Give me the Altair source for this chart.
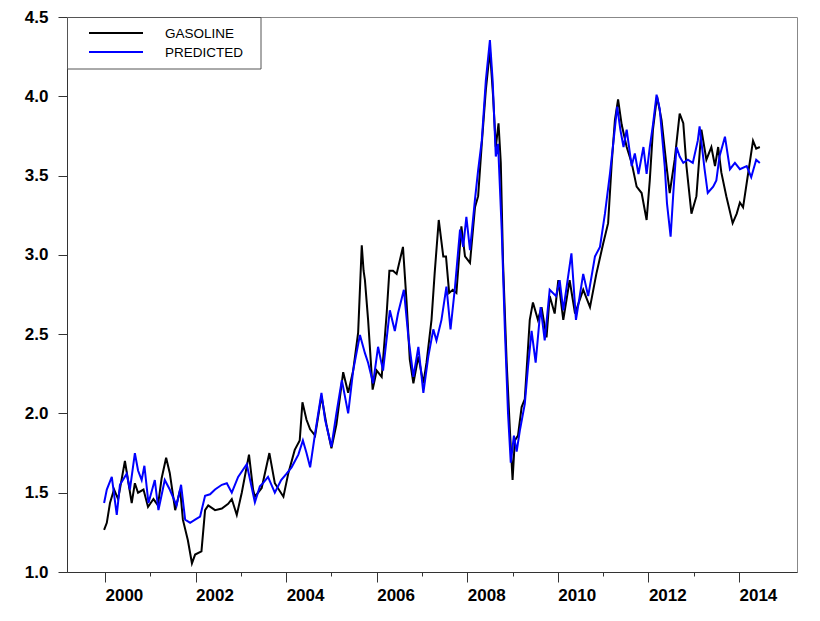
import altair as alt
import pandas as pd

# ---- data (decimal year, $/gal) ----
gas_t = [1999.98, 2000.04, 2000.11, 2000.20, 2000.29, 2000.44, 2000.59, 2000.66, 2000.73, 2000.85,
         2000.95, 2001.07, 2001.17, 2001.25, 2001.35, 2001.43, 2001.55, 2001.66, 2001.72, 2001.83,
         2001.92, 2001.99, 2002.13, 2002.21, 2002.28, 2002.43, 2002.58, 2002.72, 2002.80, 2002.91,
         2003.02, 2003.18, 2003.27, 2003.31, 2003.46, 2003.63, 2003.75, 2003.94, 2004.05, 2004.19,
         2004.30, 2004.36, 2004.45, 2004.53, 2004.64, 2004.78, 2004.89, 2005.00, 2005.11, 2005.26,
         2005.37, 2005.48, 2005.59, 2005.67, 2005.71, 2005.74, 2005.81, 2005.91, 2006.00, 2006.11,
         2006.22, 2006.28, 2006.36, 2006.44, 2006.58, 2006.66, 2006.73, 2006.81, 2006.92, 2007.03,
         2007.10, 2007.21, 2007.28, 2007.37, 2007.47, 2007.53, 2007.60, 2007.68, 2007.76, 2007.87,
         2007.95, 2008.06, 2008.17, 2008.24, 2008.32, 2008.41, 2008.50, 2008.57, 2008.63, 2008.69,
         2008.74, 2008.79, 2008.87, 2008.94, 2009.00, 2009.05, 2009.12, 2009.20, 2009.27, 2009.38,
         2009.45, 2009.56, 2009.64, 2009.75, 2009.82, 2009.93, 2010.01, 2010.12, 2010.26, 2010.38,
         2010.56, 2010.71, 2010.85, 2011.00, 2011.11, 2011.19, 2011.26, 2011.33, 2011.41, 2011.52,
         2011.63, 2011.74, 2011.85, 2011.96, 2012.03, 2012.10, 2012.19, 2012.29, 2012.40, 2012.47,
         2012.58, 2012.69, 2012.77, 2012.84, 2012.95, 2013.06, 2013.17, 2013.28, 2013.39, 2013.47,
         2013.54, 2013.61, 2013.72, 2013.86, 2013.95, 2014.02, 2014.09, 2014.20, 2014.31, 2014.38,
         2014.46]
gas_v = [1.265, 1.31, 1.435, 1.52, 1.46, 1.70, 1.435, 1.56, 1.50, 1.52,
         1.41, 1.46, 1.42, 1.59, 1.72, 1.625, 1.39, 1.52, 1.33, 1.20,
         1.055, 1.11, 1.13, 1.39, 1.42, 1.39, 1.40, 1.43, 1.46, 1.36,
         1.50, 1.74, 1.52, 1.475, 1.53, 1.75, 1.56, 1.475, 1.625, 1.77,
         1.83, 2.07, 1.96, 1.90, 1.86, 2.11, 1.93, 1.78, 1.93, 2.26,
         2.13, 2.27, 2.51, 3.06, 2.90, 2.84, 2.59, 2.15, 2.27, 2.23,
         2.63, 2.90, 2.90, 2.88, 3.05, 2.70, 2.34, 2.19, 2.36, 2.19,
         2.32, 2.59, 2.885, 3.22, 2.99, 2.99, 2.76, 2.78, 2.76, 3.18,
         2.99, 2.95, 3.30, 3.37, 3.70, 4.04, 4.29, 4.00, 3.68, 3.83,
         3.58, 2.95, 2.32, 1.90, 1.58, 1.83, 1.86, 2.04, 2.09, 2.59,
         2.70, 2.59, 2.67, 2.48, 2.74, 2.63, 2.84, 2.59, 2.84, 2.63,
         2.78, 2.67, 2.88, 3.07, 3.20, 3.58, 3.85, 3.98, 3.82, 3.68,
         3.58, 3.43, 3.39, 3.22, 3.47, 3.79, 4.00, 3.85, 3.56, 3.39,
         3.60, 3.89, 3.83, 3.56, 3.26, 3.37, 3.79, 3.60, 3.68, 3.56,
         3.68, 3.52, 3.37, 3.20, 3.26, 3.33, 3.30, 3.51, 3.72, 3.67,
         3.68]

pred_t = [1999.98, 2000.04, 2000.15, 2000.26, 2000.33, 2000.48, 2000.55, 2000.66, 2000.73, 2000.81,
          2000.87, 2000.96, 2001.10, 2001.18, 2001.32, 2001.43, 2001.58, 2001.68, 2001.77, 2001.88,
          2001.99, 2002.10, 2002.21, 2002.32, 2002.43, 2002.58, 2002.69, 2002.80, 2002.94, 2003.13,
          2003.31, 2003.42, 2003.49, 2003.60, 2003.75, 2003.89, 2004.01, 2004.12, 2004.27, 2004.37,
          2004.45, 2004.53, 2004.64, 2004.78, 2004.86, 2005.00, 2005.11, 2005.23, 2005.37, 2005.48,
          2005.63, 2005.74, 2005.81, 2005.92, 2006.03, 2006.14, 2006.29, 2006.40, 2006.47, 2006.60,
          2006.70, 2006.81, 2006.92, 2007.03, 2007.14, 2007.25, 2007.32, 2007.43, 2007.54, 2007.63,
          2007.73, 2007.84, 2007.91, 2007.98, 2008.06, 2008.17, 2008.24, 2008.32, 2008.41, 2008.50,
          2008.56, 2008.63, 2008.68, 2008.76, 2008.83, 2008.90, 2008.96, 2009.03, 2009.09, 2009.16,
          2009.27, 2009.34, 2009.42, 2009.51, 2009.62, 2009.71, 2009.82, 2009.96, 2010.04, 2010.12,
          2010.30, 2010.40, 2010.56, 2010.67, 2010.82, 2010.93, 2011.04, 2011.15, 2011.23, 2011.31,
          2011.38, 2011.45, 2011.52, 2011.63, 2011.70, 2011.78, 2011.89, 2011.96, 2012.03, 2012.10,
          2012.18, 2012.25, 2012.36, 2012.41, 2012.49, 2012.55, 2012.62, 2012.69, 2012.77, 2012.87,
          2012.98, 2013.09, 2013.13, 2013.24, 2013.31, 2013.43, 2013.50, 2013.57, 2013.69, 2013.80,
          2013.91, 2014.02, 2014.17, 2014.27, 2014.38, 2014.46]
pred_v = [1.435, 1.52, 1.60, 1.36, 1.55, 1.62, 1.52, 1.75, 1.64, 1.58,
          1.67, 1.435, 1.58, 1.39, 1.58, 1.52, 1.42, 1.55, 1.33, 1.31,
          1.33, 1.35, 1.48, 1.49, 1.52, 1.55, 1.56, 1.50, 1.60, 1.68,
          1.44, 1.54, 1.56, 1.60, 1.50, 1.58, 1.62, 1.66, 1.74, 1.83,
          1.75, 1.66, 1.875, 2.13, 1.96, 1.79, 2.00, 2.21, 2.00, 2.27,
          2.495, 2.38, 2.32, 2.19, 2.42, 2.27, 2.65, 2.52, 2.63, 2.78,
          2.48, 2.23, 2.42, 2.13, 2.36, 2.53, 2.46, 2.59, 2.80, 2.53,
          2.80, 3.16, 3.05, 3.24, 3.03, 3.35, 3.535, 3.72, 4.10, 4.355,
          4.10, 3.62, 3.70, 3.16, 2.53, 2.00, 1.69, 1.86, 1.76, 1.89,
          2.06, 2.29, 2.52, 2.32, 2.67, 2.46, 2.78, 2.74, 2.84, 2.65,
          3.01, 2.59, 2.88, 2.74, 2.99, 3.05, 3.26, 3.51, 3.72, 3.935,
          3.79, 3.68, 3.79, 3.56, 3.64, 3.51, 3.68, 3.51, 3.68, 3.82,
          4.01, 3.92, 3.56, 3.325, 3.115, 3.39, 3.68, 3.62, 3.58, 3.60,
          3.58, 3.72, 3.81, 3.54, 3.39, 3.43, 3.47, 3.62, 3.745, 3.54,
          3.58, 3.54, 3.56, 3.49, 3.60, 3.58]

series_names = ["GASOLINE", "PREDICTED"]
series_colors = ["#000000", "#0000ff"]
y_ticks = [1.0, 1.5, 2.0, 2.5, 3.0, 3.5, 4.0, 4.5]
x_ticks = list(range(2000, 2015))

df = pd.concat([
    pd.DataFrame({"t": gas_t, "v": gas_v, "series": series_names[0], "order": range(len(gas_t))}),
    pd.DataFrame({"t": pred_t, "v": pred_v, "series": series_names[1], "order": range(len(pred_t))}),
])

FONT = "Liberation Sans"

lines = alt.Chart(df).mark_line(strokeWidth=2, clip=True).encode(
    x=alt.X("t:Q", scale=alt.Scale(domain=[1999.161, 2015.281], nice=False, zero=False),
            axis=alt.Axis(values=x_ticks, format="d", title=None, grid=False,
                          labelExpr="datum.value % 2 === 0 ? datum.label : ''",
                          tickSize={"condition": {"test": "datum.value % 2 === 0", "value": 10}, "value": 4},
                          labelAlign="left", labelBaseline="top", labelPadding=5,
                          labelFlush=False, labelOverlap=False,
                          labelFont=FONT, labelFontSize=17, labelFontWeight="bold", labelColor="#000",
                          domainColor="#333", tickColor="#333")),
    y=alt.Y("v:Q", scale=alt.Scale(domain=[1.0, 4.5], nice=False, zero=False),
            axis=alt.Axis(values=y_ticks, format=".1f", title=None, grid=False, tickSize=9,
                          labelPadding=10, labelFont=FONT, labelFontSize=17, labelFontWeight="bold",
                          labelColor="#000", domainColor="#333", tickColor="#333")),
    color=alt.Color("series:N", scale=alt.Scale(domain=series_names, range=series_colors), legend=None),
    order="order:Q",
)

one = pd.DataFrame({"a": [0]})
legend_box = alt.Chart(one).mark_rect(fill="white", stroke="#555", strokeWidth=1).encode(
    x=alt.value(0.5), x2=alt.value(194), y=alt.value(0.5), y2=alt.value(52))
leg_line1 = alt.Chart(one).mark_rule(color=series_colors[0], strokeWidth=2).encode(
    x=alt.value(22), x2=alt.value(76), y=alt.value(16))
leg_line2 = alt.Chart(one).mark_rule(color=series_colors[1], strokeWidth=2).encode(
    x=alt.value(22), x2=alt.value(76), y=alt.value(35))
leg_text1 = alt.Chart(one).mark_text(text=series_names[0], align="left", baseline="middle",
                                      font=FONT, fontSize=13.5, color="#000").encode(
    x=alt.value(98), y=alt.value(16.5))
leg_text2 = alt.Chart(one).mark_text(text=series_names[1], align="left", baseline="middle",
                                      font=FONT, fontSize=13.5, color="#000").encode(
    x=alt.value(98), y=alt.value(35.5))

chart = alt.layer(lines, legend_box, leg_line1, leg_line2, leg_text1, leg_text2).properties(
    width=730, height=555,
    autosize=alt.AutoSizeParams(type="none"),
    padding={"left": 67, "top": 17, "right": 23, "bottom": 49},
    background="white",
).configure_view(stroke="#888", strokeWidth=1)

chart.save("out.html", embed_options={"renderer": "svg", "actions": False})
